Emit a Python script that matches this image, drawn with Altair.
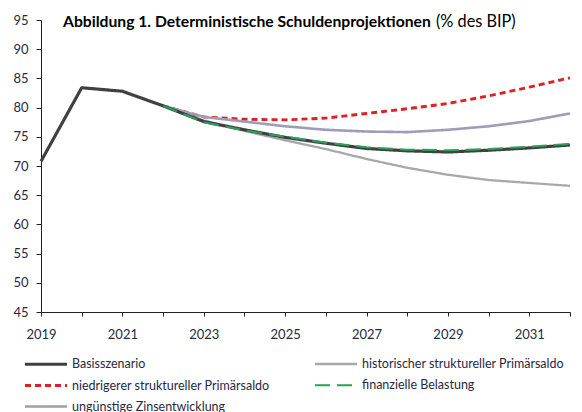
import altair as alt
import pandas as pd

series_names = [
    "Basisszenario",
    "historischer struktureller Primärsaldo",
    "niedrigerer struktureller Primärsaldo",
    "finanzielle Belastung",
    "ungünstige Zinsentwicklung",
]

years_base = list(range(2019, 2033))
base = [70.8, 83.4, 82.8, 80.3, 77.6, 76.2, 74.9, 73.9, 73.0, 72.6, 72.4, 72.7, 73.1, 73.6]

years_proj = list(range(2022, 2033))
historic = [80.3, 77.8, 76.0, 74.4, 72.9, 71.2, 69.7, 68.5, 67.6, 67.1, 66.6]
lower_pb = [80.3, 78.4, 78.0, 77.9, 78.2, 79.0, 79.8, 80.7, 82.0, 83.5, 85.1]
financial = [80.3, 77.5, 76.1, 75.0, 74.0, 73.2, 72.8, 72.7, 72.9, 73.3, 73.8]
interest = [80.3, 78.4, 77.6, 76.8, 76.2, 75.9, 75.8, 76.2, 76.8, 77.7, 79.0]

x_ticks = list(range(2019, 2033))
y_ticks = list(range(45, 100, 5))

rows = []
for y, v in zip(years_base, base):
    rows.append({"Jahr": y, "Wert": v, "Szenario": series_names[0]})
for name, vals in zip(series_names[1:], [historic, lower_pb, financial, interest]):
    for y, v in zip(years_proj, vals):
        rows.append({"Jahr": y, "Wert": v, "Szenario": name})
df = pd.DataFrame(rows)

style = {
    series_names[0]: ("#404040", [1, 0], 3.2),
    series_names[1]: ("#a8a8a8", [1, 0], 2),
    series_names[2]: ("#de2222", [6, 4], 2),
    series_names[3]: ("#2aa05a", [15, 7], 3.2),
    series_names[4]: ("#9d9db8", [1, 0], 2),
}
# legend fills column by column: order the domain so rows read as in the reference
legend_order = [series_names[0], series_names[2], series_names[4], series_names[1], series_names[3]]
colors = [style[n][0] for n in legend_order]
dashes = [style[n][1] for n in legend_order]
widths = [style[n][2] for n in legend_order]

TXT = "#1f2a44"
FONT = "Lato"

enc = dict(
    x=alt.X("Jahr:Q",
            scale=alt.Scale(domain=[2019, 2032], nice=False, zero=False),
            axis=alt.Axis(values=x_ticks, title=None,
                          labelExpr="datum.value % 2 == 1 ? datum.value : ''",
                          grid=False, tickSize=4, labelPadding=12,
                          labelFontSize=13, labelFont=FONT, labelColor=TXT,
                          domainColor="#222222", tickColor="#222222", labelFlush=False)),
    y=alt.Y("Wert:Q",
            scale=alt.Scale(domain=[45, 95], nice=False, zero=False),
            axis=alt.Axis(values=y_ticks, title=None, grid=False, tickSize=5,
                          labelPadding=8, labelFontSize=13, labelFont=FONT, labelColor=TXT,
                          domainColor="#222222", tickColor="#222222")),
    color=alt.Color("Szenario:N", scale=alt.Scale(domain=legend_order, range=colors),
                    legend=alt.Legend(title=None)),
    strokeDash=alt.StrokeDash("Szenario:N", scale=alt.Scale(domain=legend_order, range=dashes),
                              legend=alt.Legend(title=None)),
    strokeWidth=alt.StrokeWidth("Szenario:N", scale=alt.Scale(domain=legend_order, range=widths),
                                legend=alt.Legend(title=None)),
)

draw_order = [series_names[1], series_names[2], series_names[4], series_names[0], series_names[3]]
layers = []
for name in draw_order:
    layers.append(
        alt.Chart(df).transform_filter(alt.datum.Szenario == name)
        .mark_line(strokeCap="butt", strokeJoin="round").encode(**enc)
    )

title_bold = alt.Chart(pd.DataFrame({"t": ["Abbildung 1. Deterministische Schuldenprojektionen"]})).mark_text(
    align="left", baseline="middle", font=FONT, fontSize=15.7, fontWeight="bold", color="#000000"
).encode(text="t:N", x=alt.value(22), y=alt.value(2))
title_norm = alt.Chart(pd.DataFrame({"t": ["(% des BIP)"]})).mark_text(
    align="left", baseline="middle", font=FONT, fontSize=16.3, color="#000000"
).encode(text="t:N", x=alt.value(395), y=alt.value(2))

chart = alt.layer(*layers, title_bold, title_norm).properties(
    width=529, height=292,
    autosize=alt.AutoSizeParams(type="none"),
    padding={"left": 33, "top": 12, "right": 4, "bottom": 100},
).configure_view(stroke=None).configure_legend(
    orient="none", legendX=-2, legendY=337, columns=2, columnPadding=40,
    rowPadding=8, symbolType="M-4.2,0L4.2,0", symbolSize=100, labelFont=FONT,
    labelFontSize=12.5, labelColor=TXT, labelOffset=19, symbolStrokeWidth=3,
    labelLimit=400
)

chart.save("out.html", embed_options={"renderer": "svg", "actions": False})
